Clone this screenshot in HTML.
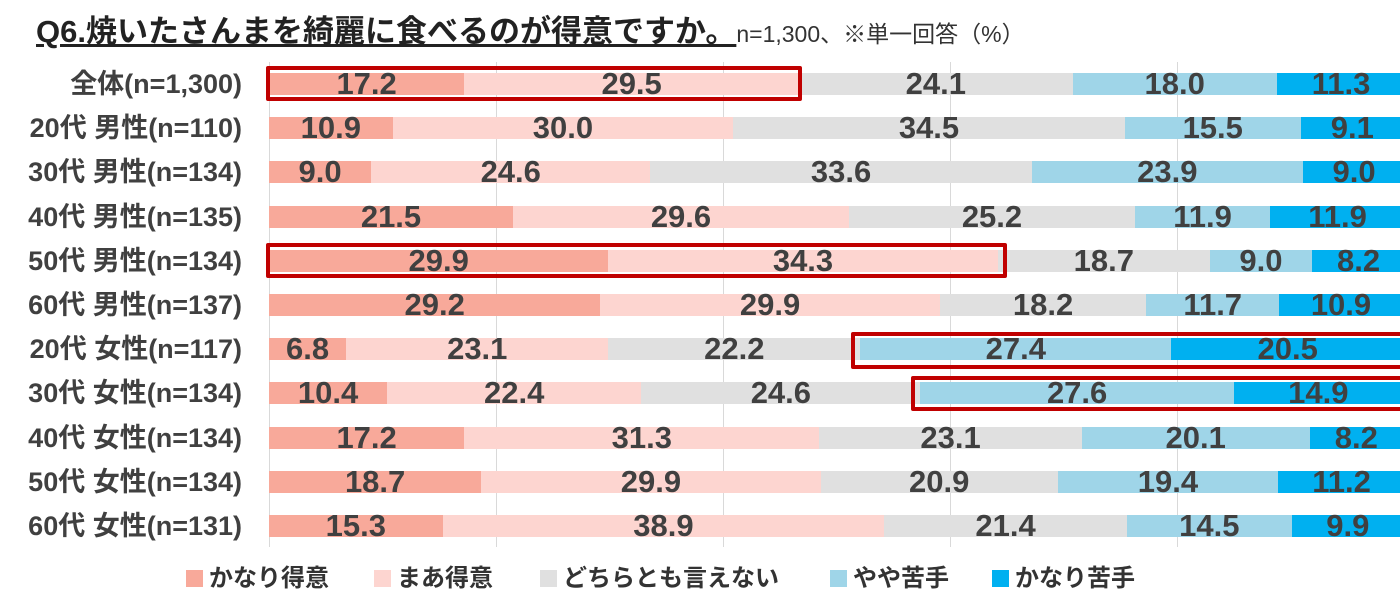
<!DOCTYPE html><html><head><meta charset="utf-8"><style>
body{margin:0;width:1400px;height:596px;overflow:hidden;background:#fff;font-family:"Liberation Sans","Noto Sans CJK JP",sans-serif;position:relative}
.t{position:absolute;left:36px;top:6px;font-size:31px;font-weight:bold;color:#222;text-decoration:underline;white-space:nowrap}
.t span{font-size:23px;font-weight:normal;text-decoration:none;display:inline-block;color:#333}
.g{position:absolute;top:62px;height:485px;width:1px;background:#d9d9d9}
.lab{position:absolute;right:1158px;font-size:27px;font-weight:bold;color:#404040;white-space:nowrap;line-height:30px}
.s{position:absolute;height:22px;font-size:31px;font-weight:bold;color:#404040;text-align:center;line-height:22px;overflow:visible;white-space:nowrap}
.box{position:absolute;border:4px solid #c00000;border-radius:2px}
.lg{position:absolute;top:558px;font-size:24px;font-weight:bold;color:#333;white-space:nowrap}
.lg i{display:inline-block;width:17px;height:17px;margin-right:6px;vertical-align:-1px}
</style></head><body>
<div class="t">Q6.焼いたさんまを綺麗に食べるのが得意ですか。<span>n=1,300、※単一回答（%）</span></div>
<div class="g" style="left:269px"></div><div class="g" style="left:496px"></div><div class="g" style="left:723px"></div><div class="g" style="left:950px"></div><div class="g" style="left:1177px"></div>
<div id="c"></div>
<div class="box" style="left:266px;top:66px;width:528px;height:27px"></div>
<div class="box" style="left:266px;top:243px;width:733px;height:27px"></div>
<div class="box" style="left:851px;top:332px;width:560px;height:29px"></div>
<div class="box" style="left:911px;top:376px;width:500px;height:27px"></div>
<div class="lg" style="left:186px"><i style="background:#f8a99a"></i>かなり得意</div>
<div class="lg" style="left:374px"><i style="background:#fdd5d0"></i>まあ得意</div>
<div class="lg" style="left:540px"><i style="background:#e0e0e0"></i>どちらとも言えない</div>
<div class="lg" style="left:830px"><i style="background:#9fd5e8"></i>やや苦手</div>
<div class="lg" style="left:992px"><i style="background:#00b0f0"></i>かなり苦手</div>
<script>
var rows=[["全体(n=1,300)",17.2,29.5,24.1,18.0,11.3],["20代 男性(n=110)",10.9,30.0,34.5,15.5,9.1],["30代 男性(n=134)",9.0,24.6,33.6,23.9,9.0],["40代 男性(n=135)",21.5,29.6,25.2,11.9,11.9],["50代 男性(n=134)",29.9,34.3,18.7,9.0,8.2],["60代 男性(n=137)",29.2,29.9,18.2,11.7,10.9],["20代 女性(n=117)",6.8,23.1,22.2,27.4,20.5],["30代 女性(n=134)",10.4,22.4,24.6,27.6,14.9],["40代 女性(n=134)",17.2,31.3,23.1,20.1,8.2],["50代 女性(n=134)",18.7,29.9,20.9,19.4,11.2],["60代 女性(n=131)",15.3,38.9,21.4,14.5,9.9]];
var col=["#f8a99a","#fdd5d0","#e0e0e0","#9fd5e8","#00b0f0"],h="";
rows.forEach(function(r,i){var cy=84+i*44.2;h+='<div class="lab" style="top:'+(cy-15)+'px">'+r[0]+'</div>';var x=269;for(var k=1;k<6;k++){var w=r[k]*11.35;h+='<div class="s" style="left:'+x+'px;width:'+w+'px;top:'+(cy-11)+'px;background:'+col[k-1]+'">'+r[k].toFixed(1)+'</div>';x+=w;}});
document.getElementById("c").innerHTML=h;
</script></body></html>
